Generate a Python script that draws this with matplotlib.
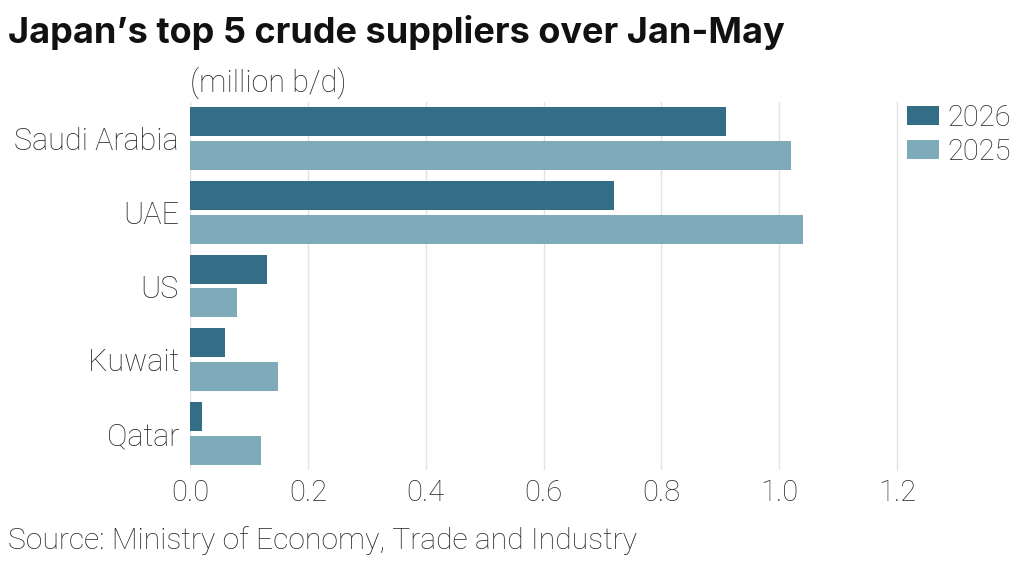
import matplotlib
matplotlib.use('Agg')
import matplotlib.pyplot as plt
import numpy as np

countries = ['Saudi Arabia', 'UAE', 'US', 'Kuwait', 'Qatar']
vals_2026 = [0.91, 0.72, 0.13, 0.06, 0.02]
vals_2025 = [1.02, 1.04, 0.08, 0.15, 0.12]
xticks = [0.0, 0.2, 0.4, 0.6, 0.8, 1.0, 1.2]

dark = '#336d86'
light = '#7eaab9'
text_col = '#2a2a2a'

W, H = 1035, 566
fig = plt.figure(figsize=(W / 100, H / 100), dpi=100)
ax = fig.add_axes([190 / W, 1 - 470.4 / H, (897 - 190) / W, (470.4 - 101.6) / H])

y = np.arange(len(countries))
ax.barh(y - 0.23, vals_2026, height=0.393, color=dark, label='2026', zorder=3)
ax.barh(y + 0.23, vals_2025, height=0.393, color=light, label='2025', zorder=3)

ax.set_xlim(0, 1.2)
ax.set_ylim(len(countries) - 0.5, -0.5)
ax.set_xticks(xticks)
ax.set_xticklabels([f'{t:.1f}' for t in xticks])
ax.set_yticks(y)
ax.set_yticklabels(countries)
ax.tick_params(length=0, labelsize=21, labelcolor=text_col)
ax.tick_params(axis='x', pad=6)
ax.tick_params(axis='y', pad=8, labelsize=22)
for lab in ax.get_xticklabels() + ax.get_yticklabels():
    lab.set_fontfamily('Roboto')
    lab.set_fontweight('light')
ax.grid(axis='x', color='#e3e3e3', linewidth=1, zorder=0)
ax.xaxis.get_gridlines()[-1].set_clip_on(False)
for s in ax.spines.values():
    s.set_visible(False)

leg = ax.legend(loc='upper left', bbox_to_anchor=(907 / W, 1 - 104 / H),
                bbox_transform=fig.transFigure, frameon=False,
                handlelength=1.1, handleheight=0.6, handletextpad=0.3,
                labelspacing=0.2, borderaxespad=0, borderpad=0,
                prop={'family': 'Roboto', 'weight': 'light', 'size': 21})
for t in leg.get_texts():
    t.set_color(text_col)

fig.text(8 / W, 1 - 32 / H, 'Japan\u2019s top 5 crude suppliers over Jan-May',
         fontsize=26, fontweight='bold', family='Inter', color='#111111',
         va='center', ha='left')
fig.text(190 / W, 1 - 83 / H, '(million b/d)', fontsize=22, family='Roboto',
         fontweight='light', color=text_col, va='center', ha='left')
fig.text(8 / W, 1 - 541 / H, 'Source: Ministry of Economy, Trade and Industry',
         fontsize=21.7, family='Roboto', fontweight='light', color=text_col,
         va='center', ha='left')

fig.savefig('out.png', dpi=100, facecolor='white')
